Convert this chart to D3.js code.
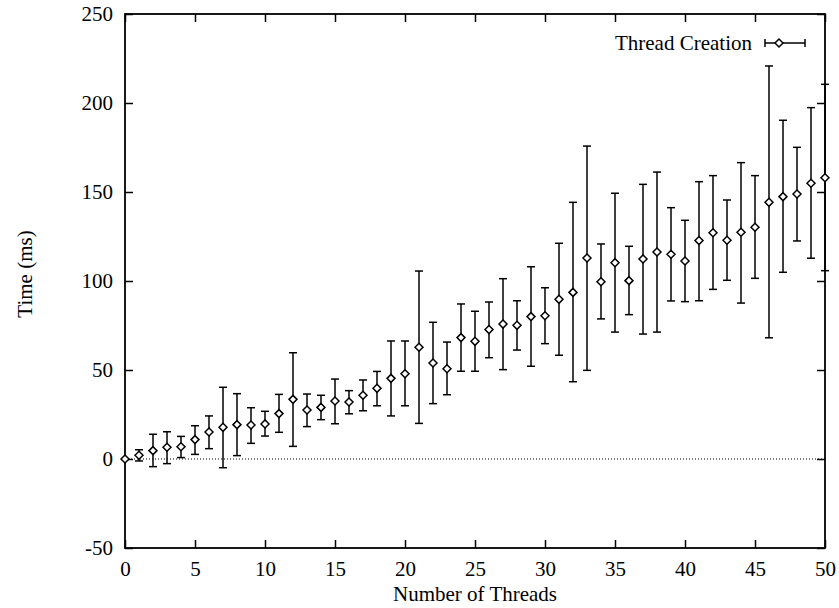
<!DOCTYPE html>
<html>
<head>
  <meta charset="utf-8" />
  <title>Thread Creation</title>
  <script src="https://d3js.org/d3.v7.min.js"></script>
</head>
<style>

body {
  margin: 0;
  background: #fff;
}

svg text {
  font-family: 'Liberation Serif', 'Times New Roman', serif;
  font-size: 21px;
  fill: #000;
}

.axis line {
  stroke: #000;
  stroke-width: 1.5px;
}

</style>
<body>
<div id="viz"></div>
<script>
'use strict';

// number of threads
const threads = [0, 1, 2, 3, 4, 5, 6, 7, 8, 9, 10, 11, 12, 13, 14, 15, 16, 17, 18, 19, 20,
  21, 22, 23, 24, 25, 26, 27, 28, 29, 30, 31, 32, 33, 34, 35, 36, 37, 38, 39, 40,
  41, 42, 43, 44, 45, 46, 47, 48, 49, 50];

// mean time (ms)
const means = [0, 2.1, 4.7, 6.6, 6.9, 10.9, 15.2, 17.8, 19.3, 19.1, 19.7,
  25.5, 33.5, 27.5, 29.0, 32.6, 32.0, 35.8, 39.7, 45.3, 47.9,
  62.8, 53.9, 50.7, 68.2, 66.1, 72.7, 75.8, 75.1, 80.0, 80.5,
  89.7, 93.6, 112.9, 99.6, 110.3, 100.2, 112.4, 116.3, 115.0, 111.2,
  122.7, 127.1, 122.9, 127.4, 130.2, 144.2, 147.4, 148.9, 154.9, 158.0];

// error bar ends
const lows = [0, -1.1, -4.3, -2.6, 0.8, 2.6, 5.8, -4.9, 1.9, 8.8, 12.9,
  15.0, 7.1, 18.2, 22.1, 19.8, 25.4, 27.1, 29.9, 24.2, 29.9,
  20.0, 31.1, 36.1, 49.3, 49.3, 56.9, 50.2, 61.2, 52.1, 64.8,
  58.3, 43.4, 49.8, 78.7, 71.3, 81.1, 70.2, 71.3, 88.8, 88.4,
  88.9, 95.3, 100.4, 87.6, 101.5, 68.1, 104.9, 122.5, 112.8, 105.8];
const highs = [0, 5.2, 13.9, 15.3, 12.7, 18.7, 24.2, 40.3, 36.7, 28.8, 26.8,
  36.3, 59.7, 36.5, 35.8, 44.9, 38.4, 44.4, 49.2, 66.3, 66.3,
  105.6, 76.8, 65.7, 87.1, 83.0, 88.2, 101.3, 88.9, 108.0, 96.2,
  121.2, 144.2, 175.8, 120.8, 149.3, 119.5, 154.3, 161.2, 141.2, 134.1,
  155.8, 159.2, 145.5, 166.5, 159.2, 220.8, 190.3, 175.1, 197.4, 210.5];

const xTicks = [0, 5, 10, 15, 20, 25, 30, 35, 40, 45, 50];
const yTicks = [-50, 0, 50, 100, 150, 200, 250];

const seriesName = 'Thread Creation';

const width = 839;
const height = 608;
const plot = {left: 125, right: 825, top: 14, bottom: 548};
const tick = 8;
const cap = 4;

const svg = d3.select('#viz')
  .append('svg')
    .attr('width', width)
    .attr('height', height);

const x = d3.scaleLinear().domain([0, 50]).range([plot.left, plot.right]);
const y = d3.scaleLinear().domain([-50, 250]).range([plot.bottom, plot.top]);

// plain hyphen for negatives, like gnuplot
const fmt = d => String(d);

// axes, gnuplot style: ticks point inward, mirrored on top and right
svg.append('g')
  .attr('class', 'axis')
  .attr('transform', 'translate(0,' + plot.bottom + ')')
  .call(d3.axisBottom(x).tickValues(xTicks).tickFormat(fmt).tickSizeInner(-tick).tickSizeOuter(0).tickPadding(13))
  .call(g => g.select('.domain').remove());

svg.append('g')
  .attr('class', 'axis')
  .attr('transform', 'translate(0,' + plot.top + ')')
  .call(d3.axisTop(x).tickValues(xTicks).tickSizeInner(-tick).tickSizeOuter(0).tickFormat(''))
  .call(g => g.select('.domain').remove());

svg.append('g')
  .attr('class', 'axis')
  .attr('transform', 'translate(' + plot.left + ',0)')
  .call(d3.axisLeft(y).tickValues(yTicks).tickFormat(fmt).tickSizeInner(-tick).tickSizeOuter(0).tickPadding(12))
  .call(g => g.select('.domain').remove());

svg.append('g')
  .attr('class', 'axis')
  .attr('transform', 'translate(' + plot.right + ',0)')
  .call(d3.axisRight(y).tickValues(yTicks).tickSizeInner(-tick).tickSizeOuter(0).tickFormat(''))
  .call(g => g.select('.domain').remove());

svg.selectAll('.axis').attr('font-size', null).attr('font-family', null);

// zero line
svg.append('line')
  .attr('x1', x(0)).attr('x2', x(50))
  .attr('y1', y(0)).attr('y2', y(0))
  .style('stroke', '#000')
  .style('stroke-width', 1)
  .style('stroke-dasharray', '1,2');

// frame
svg.append('rect')
  .attr('x', plot.left).attr('y', plot.top)
  .attr('width', plot.right - plot.left)
  .attr('height', plot.bottom - plot.top)
  .style('fill', 'none')
  .style('stroke', '#000')
  .style('stroke-width', 1.8);

const data = threads.map((t, i) => ({t: t, m: means[i], lo: lows[i], hi: highs[i]}));

const bars = svg.append('g')
  .style('stroke', '#000')
  .style('stroke-width', 1.5);

bars.selectAll('line.v').data(data).enter().append('line')
  .attr('class', 'v')
  .attr('x1', d => x(d.t)).attr('x2', d => x(d.t))
  .attr('y1', d => y(d.lo)).attr('y2', d => y(d.hi));

bars.selectAll('line.hi').data(data).enter().append('line')
  .attr('class', 'hi')
  .attr('x1', d => x(d.t) - cap).attr('x2', d => x(d.t) + cap)
  .attr('y1', d => y(d.hi)).attr('y2', d => y(d.hi));

bars.selectAll('line.lo').data(data).enter().append('line')
  .attr('class', 'lo')
  .attr('x1', d => x(d.t) - cap).attr('x2', d => x(d.t) + cap)
  .attr('y1', d => y(d.lo)).attr('y2', d => y(d.lo));

const diamond = (cx, cy) => {
  const r = 4;
  return 'M' + (cx - r) + ',' + cy + 'L' + cx + ',' + (cy - r) +
    'L' + (cx + r) + ',' + cy + 'L' + cx + ',' + (cy + r) + 'Z';
};

svg.append('g').selectAll('path').data(data).enter().append('path')
  .attr('d', d => diamond(x(d.t), y(d.m)))
  .style('fill', '#fff')
  .style('stroke', '#000')
  .style('stroke-width', 1.5);

// legend
const ly = 43;
svg.append('text')
  .attr('x', 752).attr('y', 50)
  .attr('text-anchor', 'end')
  .text(seriesName);

const leg = svg.append('g').style('stroke', '#000').style('stroke-width', 1.5);
leg.append('line').attr('x1', 765).attr('x2', 805).attr('y1', ly).attr('y2', ly);
leg.append('line').attr('x1', 765).attr('x2', 765).attr('y1', ly - cap).attr('y2', ly + cap);
leg.append('line').attr('x1', 805).attr('x2', 805).attr('y1', ly - cap).attr('y2', ly + cap);
svg.append('path')
  .attr('d', diamond(779, ly))
  .style('fill', '#fff')
  .style('stroke', '#000')
  .style('stroke-width', 1.5);

// axis titles
svg.append('text')
  .attr('x', (plot.left + plot.right) / 2)
  .attr('y', 601)
  .attr('text-anchor', 'middle')
  .text('Number of Threads');

svg.append('text')
  .attr('transform', 'translate(32,274) rotate(-90)')
  .attr('text-anchor', 'middle')
  .text('Time (ms)');

</script>
</body>
</html>
